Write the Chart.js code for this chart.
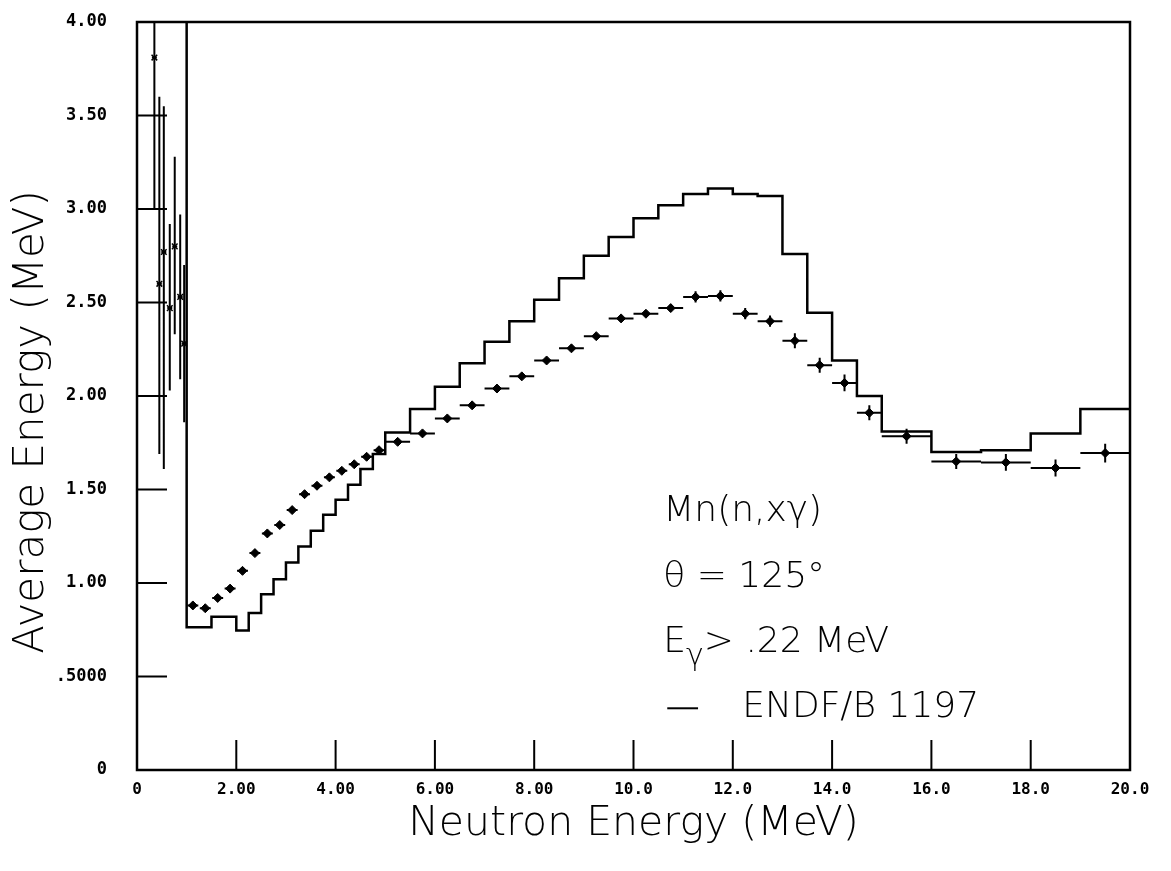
<!DOCTYPE html>
<html>
<head>
<meta charset="utf-8">
<script src="https://cdn.jsdelivr.net/npm/chart.js@4.4.1/dist/chart.umd.min.js"></script>
<style>
  body { margin: 0; background: #fff; }
  canvas { display: block; }
</style>
</head>
<body>
<canvas id="chart" width="1171" height="871"></canvas>
<script>
// ENDF/B histogram: bin edges (MeV) and average gamma energy per bin (MeV)
var endfEdges = [0, 1.0, 1.5, 2.0, 2.25, 2.5, 2.75, 3.0, 3.25, 3.5, 3.75, 4.0, 4.25, 4.5, 4.75, 5.0,
  5.5, 6.0, 6.5, 7.0, 7.5, 8.0, 8.5, 9.0, 9.5, 10.0, 10.5, 11.0, 11.5, 12.0, 12.5, 13.0,
  13.5, 14.0, 14.5, 15.0, 16.0, 17.0, 18.0, 19.0, 20.0];
var endfValues = [4.5, 0.763, 0.82, 0.746, 0.84, 0.94, 1.02, 1.11, 1.195, 1.28, 1.365, 1.445, 1.525, 1.61, 1.69,
  1.805, 1.93, 2.05, 2.175, 2.29, 2.40, 2.515, 2.63, 2.75, 2.85, 2.95, 3.02, 3.08, 3.11, 3.08, 3.07,
  2.76, 2.445, 2.19, 2.00, 1.81, 1.70, 1.71, 1.80, 1.93];

// measured points above 1 MeV
var measE = [1.125, 1.375, 1.625, 1.875, 2.125, 2.375, 2.625, 2.875, 3.125, 3.375, 3.625, 3.875,
  4.125, 4.375, 4.625, 4.875, 5.25, 5.75, 6.25, 6.75, 7.25, 7.75, 8.25, 8.75, 9.25, 9.75,
  10.25, 10.75, 11.25, 11.75, 12.25, 12.75, 13.25, 13.75, 14.25, 14.75, 15.5, 16.5, 17.5, 18.5, 19.5];
var measAvg = [0.88, 0.865, 0.92, 0.97, 1.065, 1.16, 1.265, 1.31, 1.39, 1.475, 1.52, 1.565,
  1.60, 1.635, 1.675, 1.71, 1.755, 1.80, 1.88, 1.95, 2.04, 2.105, 2.19, 2.255, 2.32, 2.415,
  2.44, 2.47, 2.53, 2.535, 2.44, 2.40, 2.295, 2.165, 2.07, 1.91, 1.785, 1.65, 1.645, 1.615, 1.695];
var measHalfWidth = [0.11, 0.11, 0.11, 0.11, 0.11, 0.11, 0.11, 0.11, 0.11, 0.11, 0.11, 0.11,
  0.11, 0.11, 0.11, 0.11, 0.25, 0.25, 0.25, 0.25, 0.25, 0.25, 0.25, 0.25, 0.25, 0.25,
  0.25, 0.25, 0.25, 0.25, 0.25, 0.25, 0.25, 0.25, 0.25, 0.25, 0.5, 0.5, 0.5, 0.5, 0.5];
var measErr = [0.01, 0.01, 0.01, 0.01, 0.01, 0.01, 0.01, 0.01, 0.01, 0.01, 0.01, 0.01,
  0.01, 0.01, 0.01, 0.01, 0.01, 0.01, 0.01, 0.01, 0.01, 0.01, 0.01, 0.01, 0.01, 0.015,
  0.015, 0.02, 0.03, 0.03, 0.03, 0.03, 0.04, 0.04, 0.045, 0.04, 0.04, 0.04, 0.045, 0.045, 0.05];

// measured points below 1 MeV (large errors)
var lowE = [0.35, 0.45, 0.54, 0.66, 0.76, 0.87, 0.95];
var lowAvg = [3.81, 2.60, 2.77, 2.47, 2.80, 2.53, 2.28];
var lowTop = [4.3, 3.60, 3.55, 2.92, 3.28, 2.97, 2.70];
var lowBottom = [3.0, 1.69, 1.61, 2.03, 2.33, 2.09, 1.86];

var xTicks = [0, 2, 4, 6, 8, 10, 12, 14, 16, 18, 20];
var yTicks = [0, 0.5, 1, 1.5, 2, 2.5, 3, 3.5, 4];

// build datasets
var endfData = endfValues.map(function (v, i) { return { x: endfEdges[i], y: v }; });
endfData.push({ x: endfEdges[endfEdges.length - 1], y: endfValues[endfValues.length - 1] });

var xBars = [], yBars = [];
measE.forEach(function (e, i) {
  xBars.push({ x: e - measHalfWidth[i], y: measAvg[i] }, { x: e + measHalfWidth[i], y: measAvg[i] }, { x: e, y: null });
  yBars.push({ x: e, y: measAvg[i] - measErr[i] }, { x: e, y: measAvg[i] + measErr[i] }, { x: e, y: null });
});
lowE.forEach(function (e, i) {
  xBars.push({ x: e - 0.05, y: lowAvg[i] }, { x: e + 0.05, y: lowAvg[i] }, { x: e, y: null });
  yBars.push({ x: e, y: lowBottom[i] }, { x: e, y: lowTop[i] }, { x: e, y: null });
});

var frameAndNotes = {
  id: "frameAndNotes",
  afterDraw: function (chart) {
    var ctx = chart.ctx, a = chart.chartArea, x = chart.scales.x, y = chart.scales.y;
    ctx.save();
    ctx.strokeStyle = "#000";
    ctx.lineWidth = 2.5;
    ctx.strokeRect(a.left, a.top, a.width, a.height);

    // inward tick marks
    ctx.lineWidth = 2;
    ctx.beginPath();
    xTicks.slice(1, -1).forEach(function (v) {
      var px = x.getPixelForValue(v);
      ctx.moveTo(px, a.bottom);
      ctx.lineTo(px, a.bottom - 30);
    });
    yTicks.slice(1, -1).forEach(function (v) {
      var py = y.getPixelForValue(v);
      ctx.moveTo(a.left, py);
      ctx.lineTo(a.left + 30, py);
    });
    ctx.stroke();

    // y axis title
    ctx.fillStyle = "#000";
    ctx.font = "200 42px 'DejaVu Sans'";
    ctx.textAlign = "center";
    ctx.textBaseline = "middle";
    ctx.save();
    ctx.translate(32, (a.top + a.bottom) / 2 + 26);
    ctx.rotate(-Math.PI / 2);
    ctx.fillText("Average Energy (MeV)", 0, 0);
    ctx.restore();

    // annotation block
    ctx.textAlign = "left";
    ctx.textBaseline = "alphabetic";
    var tx = x.getPixelForValue(10.6);
    ctx.font = "200 36px 'DejaVu Sans'";
    ctx.fillText("Mn(n,xγ)", tx, y.getPixelForValue(1.33));
    ctx.fillText("θ = 125°", tx, y.getPixelForValue(0.98));
    var by = y.getPixelForValue(0.63);
    ctx.fillText("E", tx, by);
    var ew = ctx.measureText("E").width;
    ctx.font = "200 30px 'DejaVu Sans'";
    ctx.fillText("γ", tx + ew, by + 13);
    var gw = ctx.measureText("γ").width;
    ctx.font = "200 36px 'DejaVu Sans'";
    ctx.fillText("> .22 MeV", tx + ew + gw, by);

    ctx.lineWidth = 2;
    ctx.beginPath();
    var ly = y.getPixelForValue(0.33);
    ctx.moveTo(x.getPixelForValue(10.68), ly);
    ctx.lineTo(x.getPixelForValue(11.3), ly);
    ctx.stroke();
    ctx.fillText("ENDF/B 1197", x.getPixelForValue(12.19), y.getPixelForValue(0.283));
    ctx.restore();
  }
};

new Chart(document.getElementById("chart"), {
  type: "scatter",
  data: {
    datasets: [
      {
        label: "ENDF/B 1197",
        type: "line",
        data: endfData,
        stepped: "before",
        borderColor: "#000",
        borderWidth: 2.5,
        pointRadius: 0,
        fill: false,
      },
      {
        label: "bins",
        type: "line",
        data: xBars,
        borderColor: "#000",
        borderWidth: 2,
        pointRadius: 0,
        spanGaps: false,
        fill: false,
      },
      {
        label: "errors",
        type: "line",
        data: yBars,
        borderColor: "#000",
        borderWidth: 2,
        pointRadius: 0,
        spanGaps: false,
        fill: false,
      },
      {
        label: "measured",
        data: measE.map(function (e, i) { return { x: e, y: measAvg[i] }; }),
        pointStyle: "rectRot",
        pointRadius: 4.5,
        backgroundColor: "#000",
        borderColor: "#000",
        borderWidth: 1,
      },
      {
        label: "measured low",
        data: lowE.map(function (e, i) { return { x: e, y: lowAvg[i] }; }),
        pointStyle: "crossRot",
        pointRadius: 4,
        borderColor: "#000",
        borderWidth: 1.5,
      },
    ],
  },
  options: {
    responsive: false,
    animation: false,
    devicePixelRatio: 1,
    layout: { padding: { left: 0, right: 41, top: 22, bottom: 0 } },
    plugins: { legend: { display: false }, tooltip: { enabled: false } },
    scales: {
      x: {
        type: "linear",
        min: 0,
        max: 20,
        afterBuildTicks: function (s) { s.ticks = xTicks.map(function (v) { return { value: v }; }); },
        afterFit: function (s) { s.height = 101; },
        grid: { display: false, drawTicks: false },
        border: { display: false },
        ticks: {
          autoSkip: false,
          maxRotation: 0,
          padding: 10,
          color: "#000",
          font: { family: "'DejaVu Sans Mono'", weight: "bold", size: 16 },
          callback: function (v) { return v === 0 ? "0" : v < 10 ? v.toFixed(2) : v.toFixed(1); },
        },
        title: {
          display: true,
          text: "Neutron Energy (MeV)",
          color: "#000",
          font: { family: "'DejaVu Sans'", weight: "200", size: 41 },
          padding: { top: 0, bottom: 22 },
        },
      },
      y: {
        type: "linear",
        min: 0,
        max: 4,
        afterBuildTicks: function (s) { s.ticks = yTicks.map(function (v) { return { value: v }; }); },
        afterFit: function (s) { s.width = 137; s.paddingTop = 0; s.paddingBottom = 0; },
        grid: { display: false, drawTicks: false },
        border: { display: false },
        ticks: {
          padding: 30,
          color: "#000",
          font: { family: "'DejaVu Sans Mono'", weight: "bold", size: 17 },
          callback: function (v) { return v === 0 ? "0" : v === 0.5 ? ".5000" : v.toFixed(2); },
        },
      },
    },
  },
  plugins: [frameAndNotes],
});
</script>
</body>
</html>
